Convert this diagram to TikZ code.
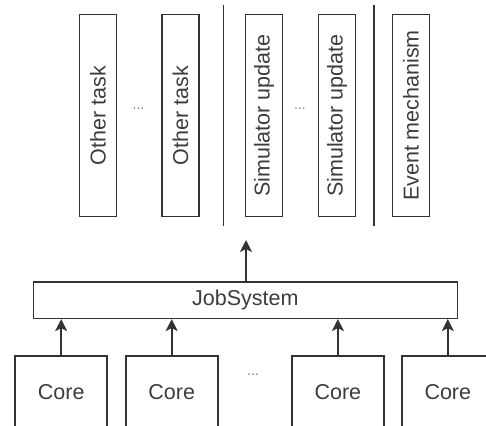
\documentclass[tikz,border=0pt]{standalone}
\usepackage{fontspec}
\setmainfont{Liberation Sans}
\usetikzlibrary{arrows.meta, positioning}

\definecolor{linegray}{HTML}{333333}
\definecolor{textgray}{HTML}{3C3C3C}

\tikzset{
    box/.style={draw=linegray, line width=1.6pt, text=textgray, inner sep=0pt,
        font=\fontsize{21.5}{25}\selectfont},
    vbox/.style={box, rotate=90, minimum width=202pt, minimum height=37pt},
    core/.style={box, minimum width=92pt, minimum height=73pt},
    arr/.style={draw=linegray, line width=1.6pt, -{Stealth[length=12pt, width=12pt, inset=3pt]}},
    gap/.style={text=gray, font=\fontsize{14}{16}\selectfont}
}

\begin{document}
\begin{tikzpicture}[x=1pt, y=-1pt]
    \useasboundingbox (0,0) rectangle (486,425);
    \clip (0,0) rectangle (486,425);

    % tasks
    \node[vbox] (ot1) at (98,115.5) {Other task};
    \node[vbox] (ot2) at (180.5,115.5) {Other task};
    \node[vbox] (su1) at (264,115.5) {Simulator update};
    \node[vbox] (su2) at (337,115.5) {Simulator update};
    \node[vbox] (ev) at (411,115.5) {Event mechanism};
    \node[gap] (d1) at (138.5,109) {...};
    \node[gap] (d2) at (300,109) {...};

    \draw[linegray, line width=1.6pt] (223.5,5) -- (223.5,225.5);
    \draw[linegray, line width=1.6pt] (374,5) -- (374,225.5);

    % job system
    \node[box, minimum width=424pt, minimum height=36.6pt] (js) at (245.3,300) {JobSystem};
    \coordinate (up) at (246,240);
    \draw[arr] (js.north -| up) -- (up);

    % cores
    \node[core, anchor=north] (c1) at (61.2,355) {Core};
    \node[core, anchor=north] (c2) at (171.7,355) {Core};
    \node[core, anchor=north] (c3) at (337.9,355) {Core};
    \node[core, anchor=north] (c4) at (447.8,355) {Core};
    \node[gap] (d3) at (253,375) {...};

    \foreach \c in {c1, c2, c3, c4}
        \draw[arr] (\c.north) -- (\c.north |- js.south);

\end{tikzpicture}
\end{document}
